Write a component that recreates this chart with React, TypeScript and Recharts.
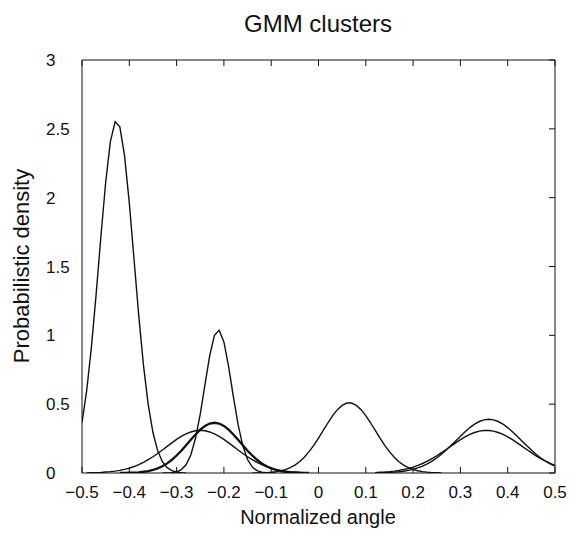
import { Line, LineChart, XAxis, YAxis } from "recharts";

// sample grid along the normalized angle axis
const ANGLE = [
  -0.5, -0.49, -0.48, -0.47, -0.46, -0.45, -0.44, -0.43, -0.42, -0.41,
  -0.4, -0.39, -0.38, -0.37, -0.36, -0.35, -0.34, -0.33, -0.32, -0.31,
  -0.3, -0.29, -0.28, -0.27, -0.26, -0.25, -0.24, -0.23, -0.22, -0.21,
  -0.2, -0.19, -0.18, -0.17, -0.16, -0.15, -0.14, -0.13, -0.12, -0.11,
  -0.1, -0.09, -0.08, -0.07, -0.06, -0.05, -0.04, -0.03, -0.02, -0.01,
  0, 0.01, 0.02, 0.03, 0.04, 0.05, 0.06, 0.07, 0.08, 0.09,
  0.1, 0.11, 0.12, 0.13, 0.14, 0.15, 0.16, 0.17, 0.18, 0.19,
  0.2, 0.21, 0.22, 0.23, 0.24, 0.25, 0.26, 0.27, 0.28, 0.29,
  0.3, 0.31, 0.32, 0.33, 0.34, 0.35, 0.36, 0.37, 0.38, 0.39,
  0.4, 0.41, 0.42, 0.43, 0.44, 0.45, 0.46, 0.47, 0.48, 0.49, 0.5,
];

const X_TICKS = [-0.5, -0.4, -0.3, -0.2, -0.1, 0, 0.1, 0.2, 0.3, 0.4, 0.5];
const Y_TICKS = [0, 0.5, 1, 1.5, 2, 2.5, 3];

// each cluster: index of its first sample in ANGLE, then density values
const TALL_START = 0;
const TALL = [
  0.366, 0.601, 0.918, 1.303, 1.72, 2.11, 2.407, 2.552, 2.515, 2.304, 1.962, 1.553,
  1.143, 0.782, 0.497, 0.294, 0.161, 0.082, 0.039, 0.017, 0.007, 0.003, 0.001,
];

const NARROW_START = 17;
const NARROW = [
  0, 0.001, 0.003, 0.009, 0.025, 0.06, 0.131, 0.252, 0.428, 0.642, 0.852, 1.0, 1.037,
  0.952, 0.772, 0.554, 0.351, 0.197, 0.098, 0.043, 0.017, 0.006, 0.002, 0.001, 0,
];

const MID_START = 36;
const MID = [
  0, 0.001, 0.002, 0.003, 0.006, 0.01, 0.016, 0.025, 0.039, 0.057, 0.082, 0.115, 0.155,
  0.201, 0.254, 0.309, 0.365, 0.417, 0.46, 0.491, 0.508, 0.508, 0.491, 0.46, 0.417,
  0.365, 0.309, 0.254, 0.201, 0.155, 0.115, 0.082, 0.057, 0.039, 0.025, 0.016, 0.01,
  0.006, 0.003, 0.002, 0.001,
];

const RIGHT_HIGH_START = 62;
const RIGHT_HIGH = [
  0.001, 0.002, 0.002, 0.004, 0.006, 0.009, 0.013, 0.019, 0.027, 0.037, 0.05, 0.066,
  0.086, 0.109, 0.136, 0.167, 0.199, 0.233, 0.267, 0.3, 0.33, 0.355, 0.374, 0.386, 0.39,
  0.386, 0.374, 0.355, 0.33, 0.3, 0.267, 0.233, 0.199, 0.167, 0.136, 0.109, 0.086, 0.066,
  0.05,
];

const RIGHT_LOW_START = 62;
const RIGHT_LOW = [
  0.003, 0.005, 0.007, 0.01, 0.014, 0.019, 0.025, 0.033, 0.043, 0.055, 0.069, 0.086,
  0.105, 0.125, 0.148, 0.171, 0.195, 0.219, 0.242, 0.262, 0.28, 0.294, 0.304, 0.309,
  0.309, 0.304, 0.294, 0.28, 0.262, 0.242, 0.219, 0.195, 0.171, 0.148, 0.125, 0.105,
  0.086, 0.069, 0.055,
];

const BROAD_START = 1;
const BROAD = [
  0.001, 0.002, 0.003, 0.004, 0.007, 0.01, 0.014, 0.019, 0.026, 0.035, 0.047, 0.061,
  0.077, 0.097, 0.118, 0.142, 0.167, 0.193, 0.219, 0.244, 0.266, 0.284, 0.298, 0.307,
  0.31, 0.307, 0.298, 0.284, 0.266, 0.244, 0.219, 0.193, 0.167, 0.142, 0.118, 0.097,
  0.077, 0.061, 0.047, 0.035, 0.026, 0.019, 0.014, 0.01, 0.007, 0.004, 0.003, 0.002,
];

const THICK_START = 8;
const THICK = [
  0, 0.001, 0.002, 0.003, 0.005, 0.009, 0.014, 0.022, 0.034, 0.049, 0.07, 0.096, 0.127,
  0.162, 0.201, 0.241, 0.28, 0.315, 0.342, 0.359, 0.365, 0.359, 0.342, 0.315, 0.28,
  0.241, 0.201, 0.162, 0.127, 0.096, 0.07, 0.049, 0.034, 0.022, 0.014, 0.009, 0.005,
  0.003, 0.002, 0.001, 0,
];

const FONT = "'Liberation Sans', Arial, Helvetica, sans-serif";
const INK = "#111";

const toPoints = (start: number, values: number[]) =>
  values.map((y, i) => ({ x: ANGLE[start + i], y }));

const fmt = (v: number) => (v < 0 ? "\u2212" + Math.abs(v) : String(v));
const blank = () => "";

const YTick = ({ y, payload }: any) => (
  <text x={46} y={y} dy={6} fontSize={17} fill={INK} fontFamily={FONT} textAnchor="start">
    {payload.value}
  </text>
);

// the last curve sits on the top/right axes so that the box edges get drawn
const CURVES = [
  { key: "tall", pts: toPoints(TALL_START, TALL), w: 1.4, box: false },
  { key: "narrow", pts: toPoints(NARROW_START, NARROW), w: 1.4, box: false },
  { key: "mid", pts: toPoints(MID_START, MID), w: 1.4, box: false },
  { key: "rightHigh", pts: toPoints(RIGHT_HIGH_START, RIGHT_HIGH), w: 1.4, box: false },
  { key: "broad", pts: toPoints(BROAD_START, BROAD), w: 1.4, box: false },
  { key: "thick", pts: toPoints(THICK_START, THICK), w: 2.3, box: false },
  { key: "rightLow", pts: toPoints(RIGHT_LOW_START, RIGHT_LOW), w: 1.4, box: true },
];

export default function App() {
  return (
    <div
      style={{
        position: "absolute",
        left: 0,
        top: 0,
        width: 572,
        height: 543,
        background: "#fff",
        fontFamily: FONT,
        color: INK,
      }}
    >
      <div
        style={{
          position: "absolute",
          left: 118,
          top: 10,
          width: 400,
          textAlign: "center",
          fontSize: 24,
          lineHeight: "28px",
        }}
      >
        GMM clusters
      </div>
      <div
        style={{
          position: "absolute",
          left: 118,
          top: 505,
          width: 400,
          textAlign: "center",
          fontSize: 20,
          lineHeight: "24px",
        }}
      >
        Normalized angle
      </div>
      <div
        style={{
          position: "absolute",
          left: 22 - 150,
          top: 266 - 13,
          width: 300,
          textAlign: "center",
          fontSize: 22,
          lineHeight: "26px",
          transform: "rotate(-90deg)",
        }}
      >
        Probabilistic density
      </div>
      <LineChart width={572} height={543} margin={{ top: 59, right: 16, bottom: 30, left: 0 }}>
        <XAxis
          dataKey="x"
          type="number"
          domain={[-0.5, 0.5]}
          ticks={X_TICKS}
          tickFormatter={fmt}
          allowDataOverflow
          height={40}
          stroke={INK}
          tickSize={-6}
          tickMargin={19}
          tick={{ fontSize: 17, fill: INK, fontFamily: FONT }}
        />
        <XAxis
          xAxisId="top"
          orientation="top"
          dataKey="x"
          type="number"
          domain={[-0.5, 0.5]}
          ticks={X_TICKS}
          allowDataOverflow
          height={1}
          stroke={INK}
          tickSize={-6}
          tickFormatter={blank}
        />
        <YAxis
          type="number"
          domain={[0, 3]}
          ticks={Y_TICKS}
          allowDataOverflow
          width={82}
          stroke={INK}
          tickLine={false}
          tick={<YTick />}
        />
        <YAxis
          yAxisId="right"
          orientation="right"
          type="number"
          domain={[0, 3]}
          ticks={Y_TICKS}
          allowDataOverflow
          width={1}
          stroke={INK}
          tickSize={-6}
          tickFormatter={blank}
        />
        {CURVES.map((c) => (
          <Line
            key={c.key}
            data={c.pts}
            dataKey="y"
            xAxisId={c.box ? "top" : 0}
            yAxisId={c.box ? "right" : 0}
            type="linear"
            stroke={INK}
            strokeWidth={c.w}
            dot={false}
            activeDot={false}
            isAnimationActive={false}
          />
        ))}
      </LineChart>
    </div>
  );
}
